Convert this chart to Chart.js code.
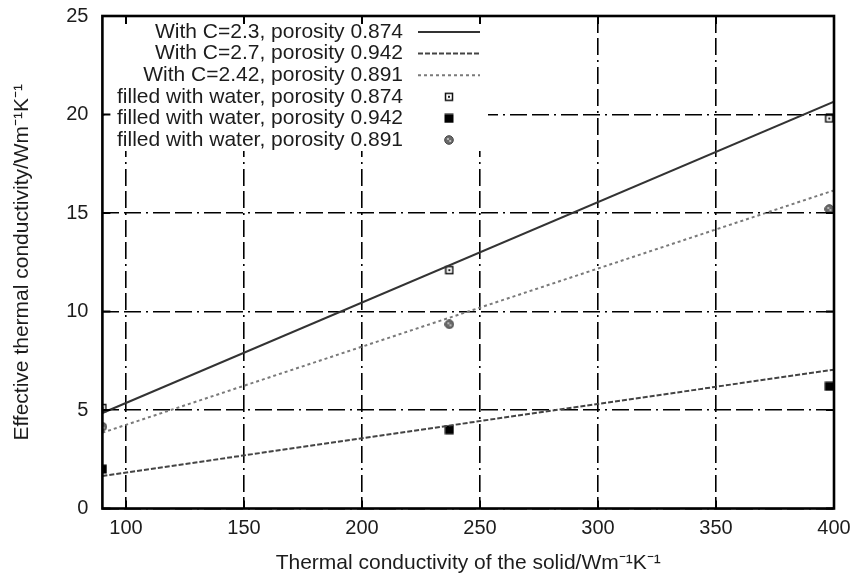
<!DOCTYPE html>
<html>
<head>
<meta charset="utf-8">
<script src="https://cdn.jsdelivr.net/npm/chart.js@4.4.0/dist/chart.umd.min.js"></script>
<style>
html, body { margin: 0; padding: 0; background: #fff; }
</style>
</head>
<body>
<canvas id="chart" width="857" height="576"></canvas>
<script>
// tick labels
const xTicks = [100, 150, 200, 250, 300, 350, 400];
const yTicks = [0, 5, 10, 15, 20, 25];

// model curves (at the two ends)
const modelX = [90, 400];
const modelC23 = [4.85, 20.65];
const modelC27 = [1.65, 7.05];
const modelC242 = [3.85, 16.15];

// measurements, filled with water
const waterX = [90, 237, 398];
const water874 = [5.1, 12.1, 19.8];
const water942 = [2.0, 4.0, 6.2];
const water891 = [4.15, 9.35, 15.2];

const seriesLabels = [
    'With C=2.3, porosity 0.874',
    'With C=2.7, porosity 0.942',
    'With C=2.42, porosity 0.891',
    'filled with water, porosity 0.874',
    'filled with water, porosity 0.942',
    'filled with water, porosity 0.891'
];

const FONT = '"Liberation Sans", Arial, sans-serif';
const INK = '#1c1c1c';

function pts(xs, ys) {
    return xs.map((x, i) => ({ x: x, y: ys[i] }));
}

function makeMarker(kind) {
    const c = document.createElement('canvas');
    c.width = 10; c.height = 10;
    const g = c.getContext('2d');
    if (kind === 'open') {
        g.fillStyle = '#fff'; g.fillRect(1, 1, 8, 8);
        g.strokeStyle = '#111'; g.lineWidth = 1.5; g.strokeRect(1.5, 1.5, 7, 7);
        g.fillStyle = '#222'; g.fillRect(4, 4, 2, 2);
    } else if (kind === 'filled') {
        g.fillStyle = '#000'; g.fillRect(0.5, 0.5, 9, 9);
    } else {
        g.beginPath(); g.arc(5, 5, 4.3, 0, Math.PI * 2);
        g.fillStyle = '#6a6a6a'; g.fill();
        g.strokeStyle = '#444'; g.lineWidth = 1; g.stroke();
        g.fillStyle = '#c8c8c8';
        g.beginPath(); g.arc(4, 4, 1.1, 0, Math.PI * 2); g.fill();
        g.beginPath(); g.arc(6.2, 6, 1.1, 0, Math.PI * 2); g.fill();
    }
    return c;
}

const openSq = makeMarker('open');
const filledSq = makeMarker('filled');
const circ = makeMarker('circle');

// legend, frame and inward ticks drawn after the data
const framePlugin = {
    id: 'frame',
    afterDatasetsDraw(chart) {
        const ctx = chart.ctx;
        const a = chart.chartArea;
        const xs = chart.scales.x, ys = chart.scales.y;
        ctx.save();
        // white legend box
        ctx.fillStyle = '#fff';
        ctx.fillRect(a.left + 2, a.top + 8, 488 - a.left - 2, 151 - a.top - 8);

        ctx.strokeStyle = '#000';
        ctx.lineWidth = 2;
        xTicks.forEach(v => {
            const p = xs.getPixelForValue(v);
            ctx.beginPath();
            ctx.moveTo(p, a.bottom); ctx.lineTo(p, a.bottom - 8);
            ctx.moveTo(p, a.top); ctx.lineTo(p, a.top + 8);
            ctx.stroke();
        });
        yTicks.forEach(v => {
            const p = ys.getPixelForValue(v);
            ctx.beginPath();
            ctx.moveTo(a.left, p); ctx.lineTo(a.left + 8, p);
            ctx.moveTo(a.right, p); ctx.lineTo(a.right - 8, p);
            ctx.stroke();
        });
        ctx.lineWidth = 2.6;
        ctx.strokeRect(a.left, a.top, a.right - a.left, a.bottom - a.top);

        // legend entries
        ctx.font = '21px ' + FONT;
        ctx.fillStyle = INK;
        ctx.textAlign = 'right';
        ctx.textBaseline = 'middle';
        chart.data.datasets.forEach((ds, i) => {
            const y = 32 + i * 21.6;
            ctx.fillText(ds.label, 403, y);
            if (ds.showLine) {
                ctx.save();
                ctx.strokeStyle = ds.borderColor;
                ctx.lineWidth = ds.borderWidth;
                ctx.setLineDash(ds.borderDash || []);
                ctx.beginPath();
                ctx.moveTo(418, y); ctx.lineTo(480, y);
                ctx.stroke();
                ctx.restore();
            } else {
                const m = ds.pointStyle;
                ctx.drawImage(m, 449 - m.width / 2, y - m.height / 2);
            }
        });
        ctx.restore();
    }
};

const gridDash = [17, 5, 17, 5, 2, 5];

new Chart(document.getElementById('chart'), {
    type: 'scatter',
    data: {
        datasets: [
            { label: seriesLabels[0], data: pts(modelX, modelC23), showLine: true, borderColor: '#333', borderWidth: 2, pointRadius: 0 },
            { label: seriesLabels[1], data: pts(modelX, modelC27), showLine: true, borderColor: '#444', borderWidth: 2, borderDash: [5, 2], pointRadius: 0 },
            { label: seriesLabels[2], data: pts(modelX, modelC242), showLine: true, borderColor: '#7a7a7a', borderWidth: 2, borderDash: [3, 3], pointRadius: 0 },
            { label: seriesLabels[3], data: pts(waterX, water874), showLine: false, pointStyle: openSq, pointRadius: 5 },
            { label: seriesLabels[4], data: pts(waterX, water942), showLine: false, pointStyle: filledSq, pointRadius: 5 },
            { label: seriesLabels[5], data: pts(waterX, water891), showLine: false, pointStyle: circ, pointRadius: 5 }
        ]
    },
    options: {
        responsive: false,
        animation: false,
        devicePixelRatio: 1,
        layout: { padding: { top: 16, right: 23, left: 0, bottom: 0 } },
        plugins: {
            legend: { display: false },
            tooltip: { enabled: false }
        },
        scales: {
            x: {
                type: 'linear',
                min: 90,
                max: 400,
                afterBuildTicks: s => { s.ticks = xTicks.map(v => ({ value: v })); },
                afterFit: s => { s.height = 67.5; s.paddingLeft = 0; s.paddingRight = 0; },
                grid: { color: '#000', lineWidth: 1.6, drawTicks: false },
                border: { display: false, dash: gridDash },
                ticks: { color: INK, font: { family: FONT, size: 20 }, padding: 8, maxRotation: 0 },
                title: {
                    display: true,
                    text: 'Thermal conductivity of the solid/Wm\u207B\u00B9K\u207B\u00B9',
                    color: INK,
                    font: { family: FONT, size: 21 },
                    padding: { top: 0, bottom: 0 }
                }
            },
            y: {
                type: 'linear',
                min: 0,
                max: 25,
                afterBuildTicks: s => { s.ticks = yTicks.map(v => ({ value: v })); },
                afterFit: s => { s.width = 102.4; s.paddingTop = 0; s.paddingBottom = 0; },
                grid: { color: '#000', lineWidth: 1.6, drawTicks: false },
                border: { display: false, dash: gridDash },
                ticks: { color: INK, font: { family: FONT, size: 20 }, padding: 14 },
                title: {
                    display: true,
                    text: 'Effective thermal conductivity/Wm\u207B\u00B9K\u207B\u00B9',
                    color: INK,
                    font: { family: FONT, size: 21 },
                    padding: { top: 10, bottom: 0 }
                }
            }
        }
    },
    plugins: [framePlugin]
});
</script>
</body>
</html>
